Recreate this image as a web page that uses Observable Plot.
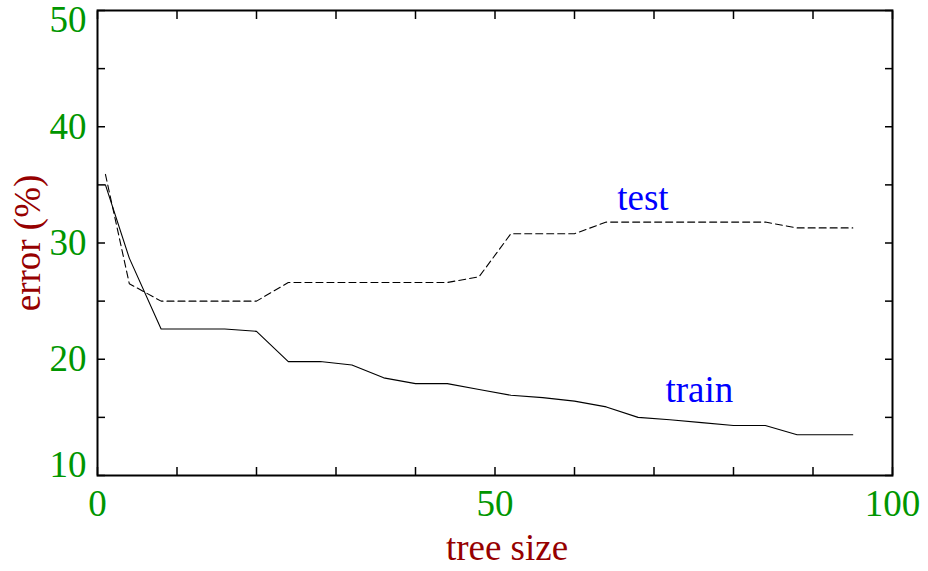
<!DOCTYPE html>
<html>
<head>
<meta charset="utf-8">
<script src="https://cdn.jsdelivr.net/npm/d3@7"></script>
<script src="https://cdn.jsdelivr.net/npm/@observablehq/plot@0.6"></script>
<style>
  html, body { margin: 0; padding: 0; background: white; }
</style>
</head>
<body>
<div id="chart"></div>
<script>
// Data
const treeSize  = [1, 4, 8, 16, 20, 24, 28, 32, 36, 40, 44, 48, 52, 56, 60, 64, 68, 72, 76, 80, 84, 88, 95];
const trainErr  = [35, 28.7, 22.6, 22.6, 22.4, 19.8, 19.8, 19.5, 18.4, 17.9, 17.9, 17.4, 16.9, 16.7, 16.4, 15.9, 15.0, 14.8, 14.55, 14.3, 14.3, 13.5, 13.5];
const testSize  = [1, 4, 8, 20, 24, 44, 48, 52, 60, 64, 84, 88, 95];
const testErr   = [35.9, 26.5, 25, 25, 26.6, 26.6, 27.1, 30.8, 30.8, 31.8, 31.8, 31.3, 31.3];
const seriesLabels = ["test", "train"];
const labelX = [68.6, 75.7];
const labelY = [33.9, 17.3];
const xLabelTicks = [0, 50, 100];
const xMinorTicks = [0, 10, 20, 30, 40, 50, 60, 70, 80, 90, 100];
const yMinorTicks = [10, 15, 20, 25, 30, 35, 40, 45, 50];
const xTitle = "tree size";
const yTitle = "error (%)";

const train = treeSize.map((x, i) => ({x, y: trainErr[i]}));
const test = testSize.map((x, i) => ({x, y: testErr[i]}));
const labels = seriesLabels.map((t, i) => ({t, x: labelX[i], y: labelY[i]}));

const green = "#009600";
const darkRed = "#960000";
const blue = "#0000ff";
const fs = 37;

const chart = Plot.plot({
  width: 928,
  height: 571,
  marginLeft: 97,
  marginRight: 36,
  marginTop: 10,
  marginBottom: 96,
  style: {fontFamily: "'Liberation Serif', 'Times New Roman', serif", fontSize: fs + "px", background: "white"},
  x: {domain: [0, 100]},
  y: {domain: [10, 50]},
  marks: [
    // inward minor ticks on all four sides
    Plot.axisX({ticks: xMinorTicks, anchor: "bottom", tickSize: -8, tickFormat: () => "", label: null, strokeWidth: 1.5}),
    Plot.axisX({ticks: xMinorTicks, anchor: "top", tickSize: -8, tickFormat: () => "", label: null, strokeWidth: 1.5}),
    Plot.axisY({ticks: yMinorTicks, anchor: "left", tickSize: -8, tickFormat: () => "", label: null, strokeWidth: 1.5}),
    Plot.axisY({ticks: yMinorTicks, anchor: "right", tickSize: -8, tickFormat: () => "", label: null, strokeWidth: 1.5}),
    // tick labels
    Plot.axisX({ticks: xLabelTicks, anchor: "bottom", tickSize: 0, tickPadding: 14, fill: green, fontSize: fs, label: null}),
    Plot.axisY({ticks: [20, 30, 40], anchor: "left", tickSize: 0, tickPadding: 11, fill: green, fontSize: fs, label: null}),
    Plot.axisY({ticks: [50], anchor: "left", tickSize: 0, tickPadding: 11, fill: green, fontSize: fs, label: null, dy: 10}),
    Plot.axisY({ticks: [10], anchor: "left", tickSize: 0, tickPadding: 11, fill: green, fontSize: fs, label: null, dy: -10}),
    Plot.frame({stroke: "black", strokeWidth: 2}),
    // data lines
    Plot.line(test, {x: "x", y: "y", stroke: "black", strokeWidth: 1.1, strokeDasharray: "7,4"}),
    Plot.line(train, {x: "x", y: "y", stroke: "black", strokeWidth: 1.1}),
    // series labels
    Plot.text(labels, {x: "x", y: "y", text: "t", fill: blue, fontSize: fs}),
    // axis titles
    Plot.text([xTitle], {frameAnchor: "bottom", lineAnchor: "middle", textAnchor: "middle", dy: 73, dx: 12, fill: darkRed, fontSize: fs}),
    Plot.text([yTitle], {frameAnchor: "left", lineAnchor: "middle", textAnchor: "middle", dx: -69, rotate: -90, fill: darkRed, fontSize: fs})
  ]
});
document.getElementById("chart").appendChild(chart);
</script>
</body>
</html>
